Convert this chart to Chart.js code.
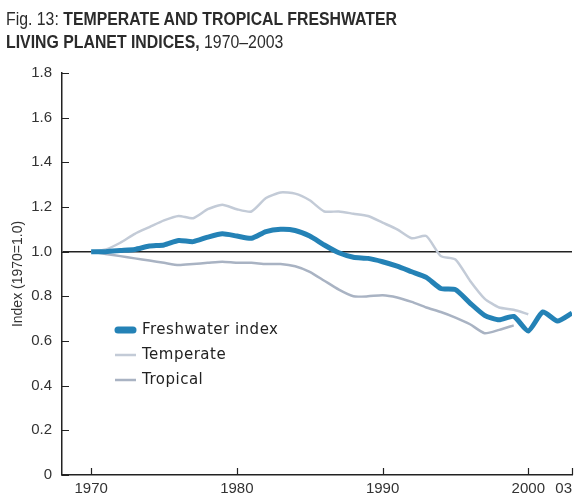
<!DOCTYPE html>
<html>
<head>
<meta charset="utf-8">
<script src="https://cdn.jsdelivr.net/npm/chart.js@4/dist/chart.umd.min.js"></script>
<style>
    body { margin: 0; background: #fff; }
    #wrap { position: relative; width: 579px; height: 500px; }
    #title {
        position: absolute; left: 6px; top: 8px;
        font-family: "Liberation Sans", Arial, sans-serif;
        font-size: 18px; line-height: 23px; color: #2b2b2b;
        transform: scaleX(0.88); transform-origin: left top;
        white-space: nowrap;
    }
    #title b { font-weight: bold; }
</style>
</head>
<body>
<div id="wrap">
    <canvas id="lpiChart" width="579" height="500"></canvas>
    <div id="title">Fig. 13: <b>TEMPERATE AND TROPICAL FRESHWATER</b><br><b>LIVING PLANET INDICES,</b> 1970–2003</div>
</div>
<script>
// data
const years = [1970, 1971, 1972, 1973, 1974, 1975, 1976, 1977, 1978, 1979,
    1980, 1981, 1982, 1983, 1984, 1985, 1986, 1987, 1988, 1989,
    1990, 1991, 1992, 1993, 1994, 1995, 1996, 1997, 1998, 1999,
    2000, 2001, 2002, 2003];
const freshwater = [1.00, 1.00, 1.005, 1.01, 1.025, 1.03, 1.05, 1.045, 1.065, 1.08,
    1.07, 1.06, 1.09, 1.10, 1.095, 1.07, 1.03, 0.995, 0.975, 0.97,
    0.955, 0.935, 0.91, 0.885, 0.835, 0.83, 0.77, 0.715, 0.695, 0.71,
    0.645, 0.73, 0.69, 0.725];
const temperate = [1.00, 1.01, 1.04, 1.08, 1.11, 1.14, 1.16, 1.15, 1.19, 1.21,
    1.19, 1.18, 1.24, 1.265, 1.26, 1.23, 1.18, 1.18, 1.17, 1.16,
    1.13, 1.10, 1.06, 1.07, 0.98, 0.965, 0.87, 0.79, 0.75, 0.74,
    0.72];
const tropical = [1.00, 0.99, 0.98, 0.97, 0.96, 0.95, 0.94, 0.945, 0.95, 0.955,
    0.95, 0.95, 0.945, 0.945, 0.935, 0.91, 0.87, 0.83, 0.80, 0.80,
    0.805, 0.795, 0.775, 0.75, 0.73, 0.705, 0.675, 0.635, 0.65, 0.67];
const xStart = 1968;
const xTicks = [1970, 1980, 1990, 2000, 2003];
const yTicks = [0, 0.2, 0.4, 0.6, 0.8, 1.0, 1.2, 1.4, 1.6, 1.8];

const seriesNames = ['Freshwater index', 'Temperate', 'Tropical'];
const blue = '#2482b6';
const lightGrey = '#c3cbd7';
const midGrey = '#a9b3c3';
const axisColor = '#222';

function toPoints(values) {
    return values.map((v, i) => ({ x: years[i], y: v }));
}

// short tick marks pointing into the plot, like the printed figure
const innerTicks = {
    id: 'innerTicks',
    afterDraw(chart) {
        const ctx = chart.ctx;
        const xs = chart.scales.x;
        const ys = chart.scales.y;
        ctx.save();
        ctx.strokeStyle = axisColor;
        ctx.lineWidth = 1.2;
        ctx.beginPath();
        xTicks.forEach(t => {
            const px = Math.round(xs.getPixelForValue(t)) + 0.5;
            ctx.moveTo(px, ys.bottom);
            ctx.lineTo(px, ys.bottom - 7);
        });
        yTicks.forEach(t => {
            const py = Math.round(ys.getPixelForValue(t)) + 0.5;
            ctx.moveTo(xs.left, py);
            ctx.lineTo(xs.left + 7, py);
        });
        ctx.stroke();
        ctx.restore();
    }
};

// legend sitting inside the plot, lower left
const insideLegend = {
    id: 'insideLegend',
    afterDraw(chart) {
        const ctx = chart.ctx;
        const area = chart.chartArea;
        const x0 = area.left + 53;
        let y = area.top + 257;
        ctx.save();
        ctx.font = '15px "DejaVu Sans", sans-serif';
        ctx.letterSpacing = '0.5px';
        ctx.fillStyle = '#222';
        ctx.textBaseline = 'middle';
        chart.data.datasets.forEach((ds, i) => {
            ctx.strokeStyle = ds.borderColor;
            ctx.lineWidth = i === 0 ? 7 : 2.5;
            ctx.lineCap = i === 0 ? 'round' : 'butt';
            ctx.beginPath();
            ctx.moveTo(x0 + (i === 0 ? 3 : 0), y);
            ctx.lineTo(x0 + (i === 0 ? 18 : 21), y);
            ctx.stroke();
            ctx.fillText(ds.label, x0 + 27, y);
            y += 25;
        });
        ctx.restore();
    }
};

window.onload = () => {
    const ctx = document.getElementById('lpiChart').getContext('2d');

    new Chart(ctx, {
        type: 'line',
        data: {
            datasets: [
                {
                    label: seriesNames[0],
                    data: toPoints(freshwater),
                    borderColor: blue,
                    borderWidth: 5,
                    pointRadius: 0,
                    tension: 0.2,
                    order: 0
                },
                {
                    label: seriesNames[1],
                    data: toPoints(temperate),
                    borderColor: lightGrey,
                    borderWidth: 2.5,
                    pointRadius: 0,
                    tension: 0.2,
                    order: 1
                },
                {
                    label: seriesNames[2],
                    data: toPoints(tropical),
                    borderColor: midGrey,
                    borderWidth: 2.5,
                    pointRadius: 0,
                    tension: 0.2,
                    order: 2
                }
            ]
        },
        options: {
            responsive: false,
            animation: false,
            layout: {
                padding: { top: 73, right: 7, left: 0, bottom: 0 }
            },
            plugins: {
                legend: { display: false },
                tooltip: { enabled: false }
            },
            scales: {
                x: {
                    type: 'linear',
                    min: xStart,
                    max: 2003,
                    // unlabelled start tick so that 'inner' only pulls the "03" label left
                    afterBuildTicks: scale => {
                        scale.ticks = [xStart].concat(xTicks).map(v => ({ value: v }));
                    },
                    afterFit: scale => {
                        scale.height = 25;
                        scale.paddingLeft = 0;
                        scale.paddingRight = 0;
                    },
                    ticks: {
                        autoSkip: false,
                        maxRotation: 0,
                        align: 'inner',
                        padding: 5,
                        color: '#333',
                        font: { family: '"Liberation Sans", Arial, sans-serif', size: 15 },
                        callback: v => v === xStart ? '' : (v === 2003 ? '03' : String(v))
                    },
                    grid: { display: false, drawTicks: false },
                    border: { display: true, color: axisColor, width: 1.5 }
                },
                y: {
                    min: 0,
                    max: 1.8,
                    afterBuildTicks: scale => {
                        scale.ticks = yTicks.map(v => ({ value: v }));
                    },
                    afterFit: scale => {
                        scale.width = 62;
                        scale.paddingTop = 0;
                        scale.paddingBottom = 0;
                    },
                    ticks: {
                        padding: 10,
                        color: '#333',
                        font: { family: '"Liberation Sans", Arial, sans-serif', size: 15 },
                        callback: v => v === 0 ? '0' : v.toFixed(1)
                    },
                    grid: {
                        drawTicks: false,
                        lineWidth: 1.5,
                        color: c => (c.tick && Math.abs(c.tick.value - 1) < 1e-9) ? axisColor : 'rgba(0,0,0,0)'
                    },
                    border: { display: true, color: axisColor, width: 1.5 },
                    title: {
                        display: true,
                        text: 'Index (1970=1.0)',
                        color: '#333',
                        padding: { top: 10, bottom: 0 },
                        font: { family: '"Liberation Sans", Arial, sans-serif', size: 14 }
                    }
                }
            }
        },
        plugins: [innerTicks, insideLegend]
    });
};
</script>
</body>
</html>
